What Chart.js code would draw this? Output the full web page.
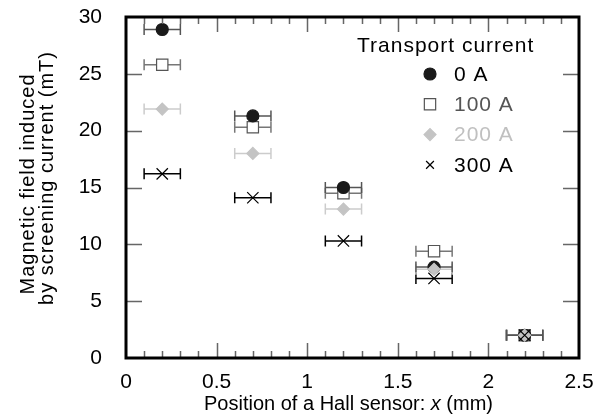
<!DOCTYPE html>
<html>
<head>
<meta charset="utf-8">
<script src="https://cdn.jsdelivr.net/npm/chart.js@4.4.1/dist/chart.umd.min.js"></script>
<style>
  html, body { margin: 0; padding: 0; background: #fff; }
  #wrap { width: 606px; height: 414px; }
</style>
</head>
<body>
<div id="wrap"><canvas id="field"></canvas></div>
<script>
// sensor positions (mm) and half width of the horizontal error bars
const positions = [0.2, 0.7, 1.2, 1.7, 2.2];
const xError = 0.1;

// magnetic field induced by screening current (mT), one list per transport current
const field0A   = [28.9, 21.3, 15.0, 8.0, 2.0];
const field100A = [25.8, 20.3, 14.5, 9.4, 2.0];
const field200A = [21.9, 18.0, 13.1, 7.8, 2.0];
const field300A = [16.2, 14.1, 10.3, 7.0, 2.0];

const seriesLabels = ['0 A', '100 A', '200 A', '300 A'];
const xTicks = [0, 0.5, 1, 1.5, 2, 2.5];
const yTicks = [0, 5, 10, 15, 20, 25, 30];

const FONT = '"Liberation Sans", Arial, sans-serif';

function points(ys) {
    return positions.map((x, i) => ({ x: x, y: ys[i] }));
}

// marker look per series; order decides which marker sits on top
const styles = [
    { pointStyle: 'circle',   radius: 6, fill: '#1a1a1a', stroke: '#1a1a1a', bar: '#555555', text: '#000000', order: 2 },
    { pointStyle: 'rect',     radius: 8, fill: '#ffffff', stroke: '#555555', bar: '#777777', text: '#555555', order: 3 },
    { pointStyle: 'rectRot',  radius: 6, fill: '#c4c4c4', stroke: '#c4c4c4', bar: '#cccccc', text: '#c0c0c0', order: 1 },
    { pointStyle: 'crossRot', radius: 8, fill: '#000000', stroke: '#000000', bar: '#000000', text: '#000000', order: 0 }
];

const values = [field0A, field100A, field200A, field300A];
const datasets = values.map((v, i) => ({
    label: seriesLabels[i],
    data: points(v),
    order: styles[i].order,
    pointStyle: styles[i].pointStyle,
    pointRadius: styles[i].radius,
    pointHoverRadius: styles[i].radius,
    backgroundColor: styles[i].fill,
    borderColor: styles[i].stroke,
    pointBorderWidth: 1.2,
    showLine: false,
    barColor: styles[i].bar,
    textColor: styles[i].text
}));

// horizontal error bars, drawn under the markers
const errorBars = {
    id: 'errorBars',
    beforeDatasetsDraw(chart) {
        const ctx = chart.ctx;
        const xs = chart.scales.x, ys = chart.scales.y;
        ctx.save();
        for (let d = chart.data.datasets.length - 1; d >= 0; d--) {
            const ds = chart.data.datasets[d];
            ctx.strokeStyle = ds.barColor;
            ctx.lineWidth = 1.5;
            ds.data.forEach(p => {
                const x1 = xs.getPixelForValue(p.x - xError);
                const x2 = xs.getPixelForValue(p.x + xError);
                const y = ys.getPixelForValue(p.y);
                ctx.beginPath();
                ctx.moveTo(x1, y); ctx.lineTo(x2, y);
                ctx.moveTo(x1, y - 5.5); ctx.lineTo(x1, y + 5.5);
                ctx.moveTo(x2, y - 5.5); ctx.lineTo(x2, y + 5.5);
                ctx.stroke();
            });
        }
        ctx.restore();
    }
};

function markerRadius(style) {
    if (style === 'crossRot') return 5.5;
    if (style === 'rect') return 8;
    return 6;
}

// frame, inward ticks, axis titles and the legend box
const frame = {
    id: 'frame',
    afterDraw(chart) {
        const ctx = chart.ctx;
        const a = chart.chartArea;
        const xs = chart.scales.x, ys = chart.scales.y;
        ctx.save();

        // inward tick marks
        ctx.strokeStyle = '#666666';
        ctx.lineWidth = 1.5;
        ctx.beginPath();
        for (let k = 1; k < 25; k++) {
            const px = Math.round(xs.getPixelForValue(k / 10)) + 0.5;
            const len = (k % 5 === 0) ? 15 : 7;
            ctx.moveTo(px, a.bottom); ctx.lineTo(px, a.bottom - len);
            ctx.moveTo(px, a.top); ctx.lineTo(px, a.top + len);
        }
        yTicks.slice(1, -1).forEach(v => {
            const py = Math.round(ys.getPixelForValue(v)) + 0.5;
            ctx.moveTo(a.left, py); ctx.lineTo(a.left + 16, py);
            ctx.moveTo(a.right, py); ctx.lineTo(a.right - 16, py);
        });
        ctx.stroke();

        // plot frame
        ctx.strokeStyle = '#000000';
        ctx.lineWidth = 3;
        ctx.strokeRect(a.left, a.top, a.right - a.left, a.bottom - a.top);

        // x axis title with italic x
        ctx.fillStyle = '#000000';
        ctx.textBaseline = 'alphabetic';
        ctx.textAlign = 'left';
        const parts = [
            ['Position of a Hall sensor: ', '20px ' + FONT],
            ['x', 'italic 20px ' + FONT],
            [' (mm)', '20px ' + FONT]
        ];
        let width = 0;
        parts.forEach(p => { ctx.font = p[1]; width += ctx.measureText(p[0]).width; });
        let tx = (a.left + a.right) / 2 - 4 - width / 2;
        parts.forEach(p => {
            ctx.font = p[1];
            ctx.fillText(p[0], tx, a.bottom + 52);
            tx += ctx.measureText(p[0]).width;
        });

        // y axis title, two centred lines
        ctx.save();
        ctx.font = '20px ' + FONT;
        ctx.letterSpacing = '1px';
        ctx.textBaseline = 'middle';
        ctx.textAlign = 'center';
        ctx.translate(28, 0);
        ctx.rotate(-Math.PI / 2);
        ctx.fillText('Magnetic field induced', -184, 0);
        ctx.fillText('by screening current (mT)', -178, 19);
        ctx.restore();

        // legend
        ctx.save();
        ctx.font = '21px ' + FONT;
        ctx.letterSpacing = '1px';
        ctx.textBaseline = 'middle';
        ctx.textAlign = 'left';
        ctx.fillStyle = '#000000';
        ctx.fillText('Transport current', a.left + 231, a.top + 29);
        chart.data.datasets.forEach((ds, i) => {
            const cy = a.top + 57 + i * 30.3;
            const cx = a.left + 304;
            ctx.fillStyle = ds.backgroundColor;
            ctx.strokeStyle = ds.borderColor;
            ctx.lineWidth = 1.2;
            Chart.helpers.drawPoint(ctx, {
                pointStyle: ds.pointStyle,
                radius: markerRadius(ds.pointStyle),
                borderWidth: 1.2
            }, cx, cy);
            ctx.fillStyle = ds.textColor;
            ctx.fillText(ds.label, a.left + 328, cy + 1);
        });
        ctx.restore();

        ctx.restore();
    }
};

new Chart(document.getElementById('field'), {
    type: 'scatter',
    data: { datasets: datasets },
    options: {
        responsive: true,
        maintainAspectRatio: false,
        animation: false,
        events: [],
        layout: { padding: { top: 17, right: 27, left: 0, bottom: 0 } },
        plugins: {
            legend: { display: false },
            tooltip: { enabled: false }
        },
        scales: {
            x: {
                type: 'linear',
                min: 0,
                max: 2.5,
                afterBuildTicks: s => { s.ticks = xTicks.map(v => ({ value: v })); },
                afterFit: s => { s.height = 56; s.paddingLeft = 0; s.paddingRight = 0; },
                grid: { display: false, drawTicks: false },
                border: { display: false },
                ticks: {
                    padding: 12,
                    color: '#000000',
                    font: { family: FONT, size: 21 },
                    maxRotation: 0,
                    callback: v => String(v)
                }
            },
            y: {
                type: 'linear',
                min: 0,
                max: 30,
                afterBuildTicks: s => { s.ticks = yTicks.map(v => ({ value: v })); },
                afterFit: s => { s.width = 126; s.paddingTop = 0; s.paddingBottom = 0; },
                grid: { display: false, drawTicks: false },
                border: { display: false },
                ticks: {
                    padding: 24,
                    color: '#000000',
                    font: { family: FONT, size: 21 },
                    callback: v => String(v)
                }
            }
        }
    },
    plugins: [errorBars, frame]
});
</script>
</body>
</html>
